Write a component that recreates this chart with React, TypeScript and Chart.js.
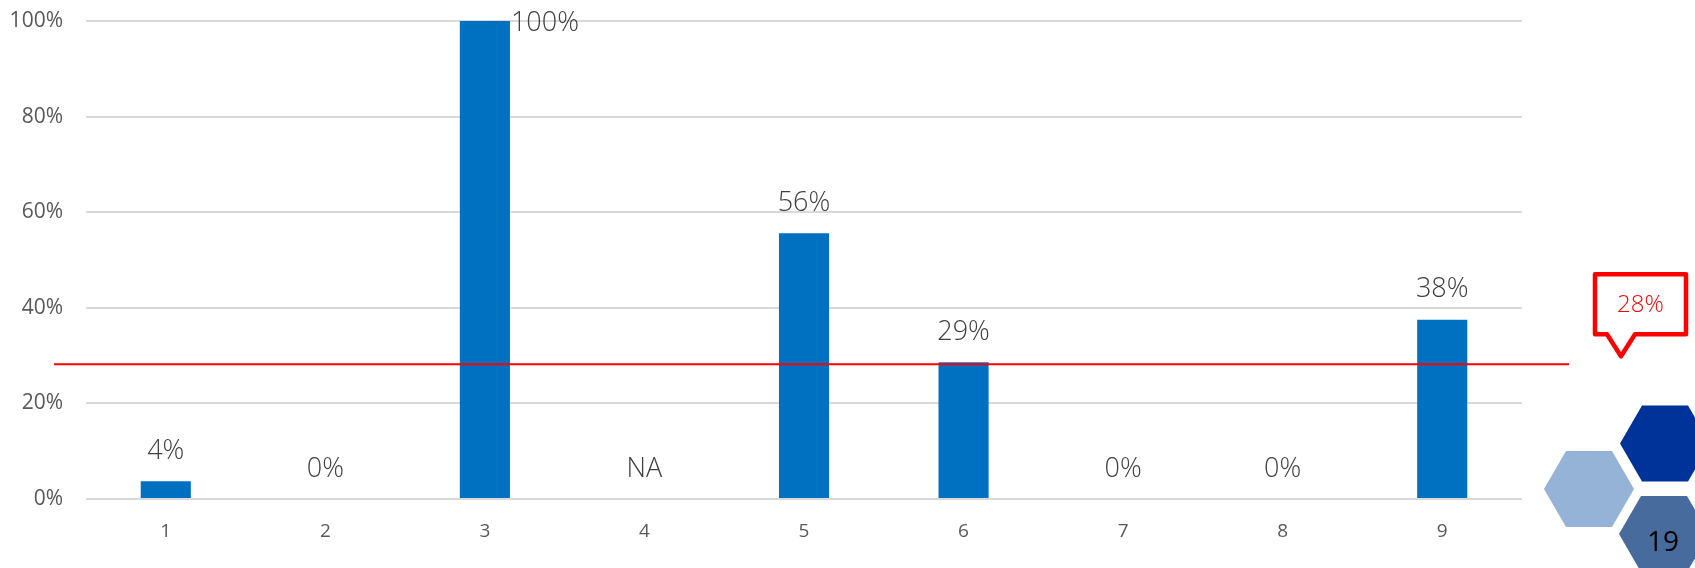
import React, { useEffect, useRef } from "react";
import { Chart, registerables } from "chart.js";

Chart.register(...registerables);

// Categories along the x axis
const categories = ["1", "2", "3", "4", "5", "6", "7", "8", "9"];
// Share per category (null = not available)
const shares: (number | null)[] = [0.037, 0, 1.0, null, 0.556, 0.286, 0, 0, 0.375];
// Label shown where there is no value
const missingLabel = "NA";
// Page number shown in the corner badge
const pageNumber = "19";

const BAR_BLUE = "#0070C0";
const AVG_RED = "#FF0000";
const FONT = "'Open Sans', 'DejaVu Sans', sans-serif";

const pct = (v: number) => `${Math.round(v * 100)}%`;

const present = shares.filter((v): v is number => v !== null);
const average = present.reduce((a, b) => a + b, 0) / present.length;

// Value labels above each bar
const valueLabels = {
  id: "valueLabels",
  afterDatasetsDraw(chart: any) {
    const { ctx, chartArea } = chart;
    const meta = chart.getDatasetMeta(0);
    const y = chart.scales.y;
    ctx.save();
    ctx.font = `300 27px ${FONT}`;
    ctx.fillStyle = "#404040";
    ctx.textBaseline = "middle";
    meta.data.forEach((el: any, i: number) => {
      const v = shares[i];
      const text = v === null ? missingLabel : pct(v);
      const x = el.x;
      const top = v === null ? y.getPixelForValue(0) : el.y;
      const cy = top - 30;
      if (cy - 14 < chartArea.top - 8) {
        ctx.textAlign = "left";
        ctx.fillText(text, x + el.width / 2 + 1, top + 2);
      } else {
        ctx.textAlign = "center";
        ctx.fillText(text, x, cy);
      }
    });
    ctx.restore();
  },
};

// Average line with its callout
const averageLine = {
  id: "averageLine",
  afterDatasetsDraw(chart: any) {
    const { ctx, chartArea } = chart;
    const ly = chart.scales.y.getPixelForValue(average);
    const x0 = chartArea.left - 32;
    const x1 = chartArea.right + 47;
    ctx.save();
    ctx.strokeStyle = AVG_RED;
    ctx.lineWidth = 2;
    ctx.beginPath();
    ctx.moveTo(x0, ly);
    ctx.lineTo(x1, ly);
    ctx.stroke();

    // callout box
    const tipX = x1 + 52;
    const tipY = ly - 8;
    const bx0 = tipX - 26;
    const bx1 = tipX + 65;
    const by1 = tipY - 22;
    const by0 = by1 - 60;
    ctx.beginPath();
    ctx.moveTo(bx0, by0);
    ctx.lineTo(bx1, by0);
    ctx.lineTo(bx1, by1);
    ctx.lineTo(tipX + 14, by1);
    ctx.lineTo(tipX, tipY);
    ctx.lineTo(tipX - 14, by1);
    ctx.lineTo(bx0, by1);
    ctx.closePath();
    ctx.fillStyle = "#FFFFFF";
    ctx.fill();
    ctx.lineWidth = 4.5;
    ctx.lineJoin = "round";
    ctx.stroke();
    ctx.fillStyle = AVG_RED;
    ctx.font = `300 24px ${FONT}`;
    ctx.textAlign = "center";
    ctx.textBaseline = "middle";
    ctx.fillText(pct(average), (bx0 + bx1) / 2, (by0 + by1) / 2 + 1);
    ctx.restore();
  },
};

// Hexagon badge in the lower right corner
const hexBadge = {
  id: "hexBadge",
  afterDraw(chart: any) {
    const { ctx, width, height } = chart;
    const hex = (cx: number, cy: number, color: string) => {
      const w = 45, h = 38, d = 22;
      ctx.beginPath();
      ctx.moveTo(cx - w, cy);
      ctx.lineTo(cx - w + d, cy - h);
      ctx.lineTo(cx + w - d, cy - h);
      ctx.lineTo(cx + w, cy);
      ctx.lineTo(cx + w - d, cy + h);
      ctx.lineTo(cx - w + d, cy + h);
      ctx.closePath();
      ctx.fillStyle = color;
      ctx.fill();
    };
    ctx.save();
    hex(width - 30, height - 124.5, "#003399");
    hex(width - 106, height - 79, "#95B3D7");
    hex(width - 31, height - 34, "#476B9C");
    ctx.fillStyle = "#000000";
    ctx.font = `28px ${FONT}`;
    ctx.textAlign = "center";
    ctx.textBaseline = "middle";
    ctx.fillText(pageNumber, width - 32, height - 25);
    ctx.restore();
  },
};

export default function App() {
  const canvasRef = useRef<HTMLCanvasElement>(null);

  useEffect(() => {
    if (!canvasRef.current) return;
    const chart = new Chart(canvasRef.current, {
      type: "bar",
      data: {
        labels: categories,
        datasets: [
          {
            data: shares as any,
            backgroundColor: BAR_BLUE,
            categoryPercentage: 1,
            barPercentage: 0.314,
          },
        ],
      },
      options: {
        animation: false,
        responsive: true,
        maintainAspectRatio: false,
        layout: { padding: { top: 21, right: 173, bottom: 0, left: 0 } },
        plugins: {
          legend: { display: false },
          tooltip: { enabled: false },
        },
        scales: {
          x: {
            grid: { display: false, drawTicks: false },
            border: { display: false },
            ticks: {
              color: "#595959",
              font: { family: FONT, size: 19 },
              padding: 21,
            },
            afterFit: (scale: any) => {
              scale.height = 69;
            },
          },
          y: {
            min: 0,
            max: 1,
            grid: {
              color: "#D9D9D9",
              lineWidth: 2,
              drawTicks: true,
              tickLength: 23,
              tickColor: "rgba(0,0,0,0)",
            },
            border: { display: false },
            ticks: {
              stepSize: 0.2,
              color: "#595959",
              font: { family: FONT, size: 21 },
              padding: 0,
              callback: (v: any) => pct(Number(v)),
            },
            afterFit: (scale: any) => {
              scale.width = 86;
            },
          },
        },
      },
      plugins: [averageLine, valueLabels, hexBadge],
    });
    return () => chart.destroy();
  }, []);

  return (
    <div style={{ position: "fixed", left: 0, top: 0, width: 1695, height: 568, background: "#fff" }}>
      <canvas ref={canvasRef} />
    </div>
  );
}
